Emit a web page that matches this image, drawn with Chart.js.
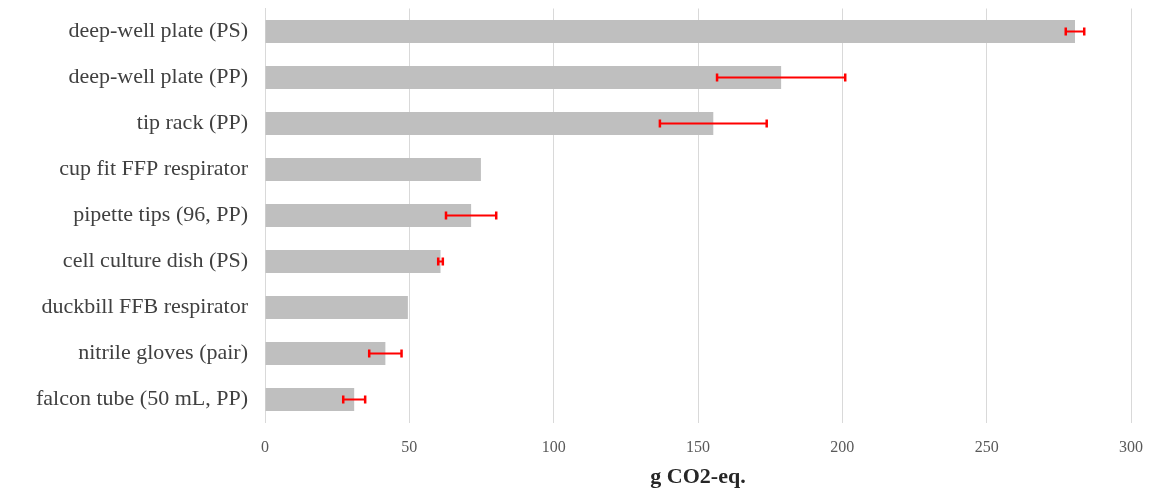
<!DOCTYPE html>
<html>
<head>
<meta charset="utf-8">
<script src="https://cdn.jsdelivr.net/npm/chart.js@4/dist/chart.umd.min.js"></script>
<style>
  html, body { margin: 0; padding: 0; background: #ffffff; }
  #wrap { width: 1160px; height: 488px; position: relative; }
</style>
</head>
<body>
<div id="wrap"><canvas id="c"></canvas></div>
<script>
// Carbon footprint per item, g CO2-eq.
const categories = [
  'deep-well plate (PS)',
  'deep-well plate (PP)',
  'tip rack (PP)',
  'cup fit FFP respirator',
  'pipette tips (96, PP)',
  'cell culture dish (PS)',
  'duckbill FFB respirator',
  'nitrile gloves (pair)',
  'falcon tube (50 mL, PP)'
];
const footprint = [280.6, 178.8, 155.3, 74.8, 71.4, 60.8, 49.5, 41.7, 30.9];
// Standard deviation; null where no spread is reported
const spread = [3.2, 22.2, 18.5, null, 8.7, 0.8, null, 5.6, 3.8];
const xTicks = [0, 50, 100, 150, 200, 250, 300];

const serif = '"Liberation Serif", "Times New Roman", serif';

// Horizontal red whiskers with end caps, placed via the chart's scales
const errorBars = {
  id: 'errorBars',
  afterDatasetsDraw(chart) {
    const ctx = chart.ctx;
    const xs = chart.scales.x;
    const meta = chart.getDatasetMeta(0);
    ctx.save();
    ctx.strokeStyle = '#ff0000';
    meta.data.forEach((bar, i) => {
      const e = spread[i];
      if (e == null) return;
      const x0 = xs.getPixelForValue(footprint[i] - e);
      const x1 = xs.getPixelForValue(footprint[i] + e);
      const y = bar.y;
      ctx.lineWidth = 2;
      ctx.beginPath();
      ctx.moveTo(x0, y); ctx.lineTo(x1, y);
      ctx.stroke();
      ctx.lineWidth = 2.5;
      ctx.beginPath();
      ctx.moveTo(x0, y - 4); ctx.lineTo(x0, y + 4);
      ctx.moveTo(x1, y - 4); ctx.lineTo(x1, y + 4);
      ctx.stroke();
    });
    ctx.restore();
  }
};

new Chart(document.getElementById('c'), {
  type: 'bar',
  data: {
    labels: categories,
    datasets: [{
      data: footprint,
      backgroundColor: '#bfbfbf',
      borderWidth: 0,
      barPercentage: 0.5,
      categoryPercentage: 1.0
    }]
  },
  options: {
    indexAxis: 'y',
    responsive: true,
    maintainAspectRatio: false,
    animation: false,
    layout: { padding: { top: 8.5, right: 29, bottom: 0, left: 0 } },
    plugins: {
      legend: { display: false },
      tooltip: { enabled: false }
    },
    scales: {
      x: {
        min: 0,
        max: 300,
        afterBuildTicks(scale) { scale.ticks = xTicks.map(v => ({ value: v })); },
        afterFit(scale) { scale.height = 65.5; },
        grid: { color: '#d9d9d9', lineWidth: 1, drawTicks: false },
        border: { display: false },
        ticks: {
          color: '#595959',
          font: { family: serif, size: 16 },
          padding: 16
        },
        title: {
          display: true,
          text: 'g CO2-eq.',
          color: '#262626',
          font: { family: serif, size: 22, weight: 'bold' },
          padding: { top: 2, bottom: -3 }
        }
      },
      y: {
        afterFit(scale) {
          scale.width = 265;
          scale.paddingTop = 0;
          scale.paddingBottom = 0;
        },
        grid: { display: false, drawTicks: false },
        border: { display: true, color: '#d9d9d9', width: 1 },
        ticks: {
          color: '#404040',
          font: { family: serif, size: 22 },
          padding: 17
        }
      }
    }
  },
  plugins: [errorBars]
});
</script>
</body>
</html>
